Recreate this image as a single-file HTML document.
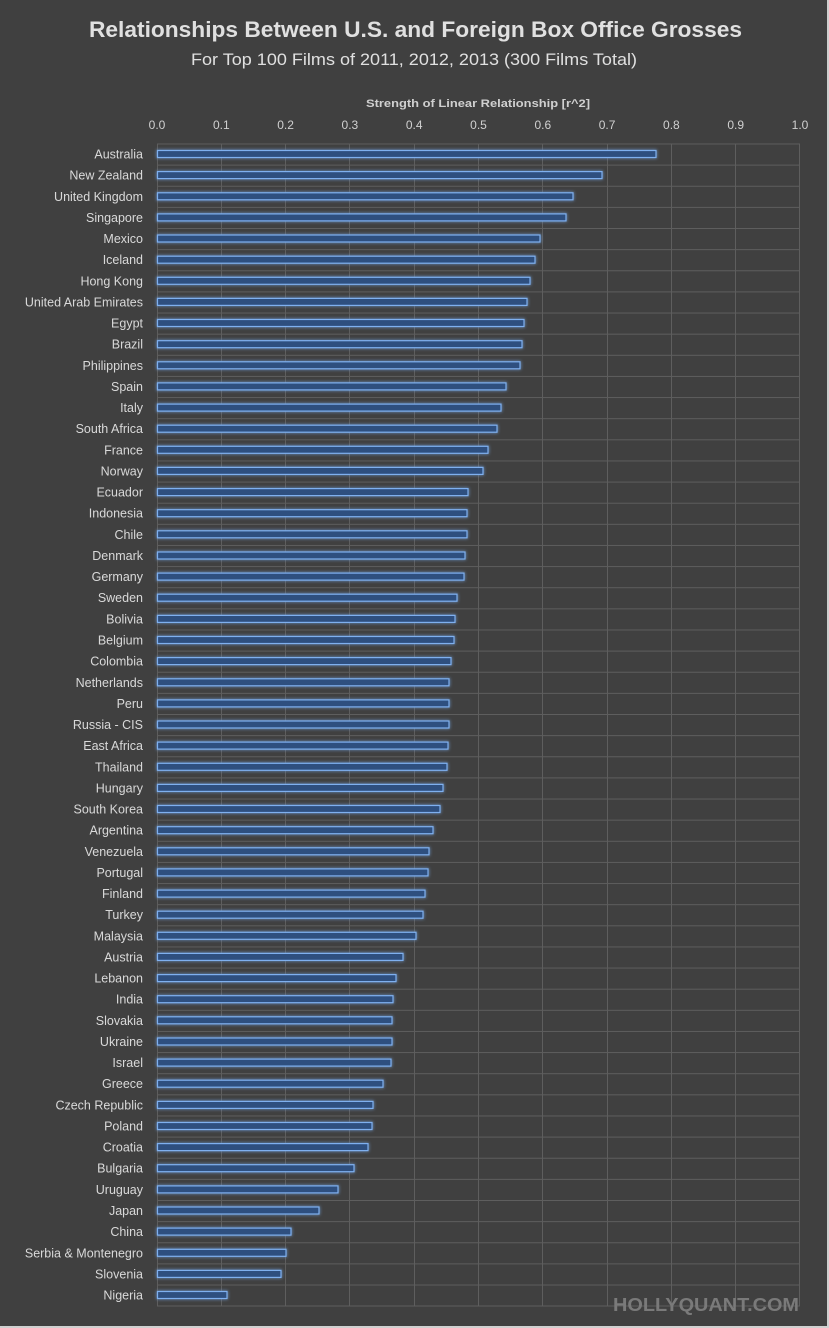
<!DOCTYPE html>
<html><head><meta charset="utf-8"><style>
html,body{margin:0;padding:0;background:#404040;}
svg{display:block;}
text{font-family:"Liberation Sans",sans-serif;}
</style></head><body>
<svg width="829" height="1328" viewBox="0 0 829 1328" xmlns="http://www.w3.org/2000/svg">
<defs>
<pattern id="hg" x="0" y="143.5" width="829" height="21.13" patternUnits="userSpaceOnUse">
<line x1="0" y1="0.5" x2="829" y2="0.5" stroke="#5e5e5e" stroke-width="1"/>
</pattern>
<filter id="glow" x="-5%" y="-150%" width="110%" height="400%">
<feGaussianBlur stdDeviation="1.6" result="b"/>
<feMerge><feMergeNode in="b"/><feMergeNode in="SourceGraphic"/></feMerge>
</filter>
</defs>
<rect x="0" y="0" width="829" height="1328" fill="#404040"/>
<rect x="827" y="0" width="2" height="1328" fill="#d0d0d0"/>
<rect x="0" y="1326" width="829" height="2" fill="#d0d0d0"/>
<text x="415.5" y="37" text-anchor="middle" font-size="22" font-weight="bold" fill="#e0e0e0" textLength="653" lengthAdjust="spacingAndGlyphs">Relationships Between U.S. and Foreign Box Office Grosses</text>
<text x="414" y="65" text-anchor="middle" font-size="17" fill="#e0e0e0" textLength="446" lengthAdjust="spacingAndGlyphs">For Top 100 Films of 2011, 2012, 2013 (300 Films Total)</text>
<text x="478" y="107" text-anchor="middle" font-size="11" font-weight="bold" fill="#d0d0d0" textLength="224" lengthAdjust="spacingAndGlyphs">Strength of Linear Relationship [r^2]</text>
<g font-size="12" fill="#d0d0d0" text-anchor="middle">
<text x="157" y="129">0.0</text><text x="221.3" y="129">0.1</text><text x="285.6" y="129">0.2</text><text x="349.9" y="129">0.3</text><text x="414.2" y="129">0.4</text><text x="478.5" y="129">0.5</text><text x="542.8" y="129">0.6</text><text x="607.1" y="129">0.7</text><text x="671.4" y="129">0.8</text><text x="735.7" y="129">0.9</text><text x="800" y="129">1.0</text>
</g>
<rect x="157" y="143.5" width="643" height="1163" fill="url(#hg)"/>
<g stroke="#5e5e5e" stroke-width="1">
<line x1="157.5" y1="143.5" x2="157.5" y2="1306"/><line x1="221.5" y1="143.5" x2="221.5" y2="1306"/><line x1="285.5" y1="143.5" x2="285.5" y2="1306"/><line x1="349.5" y1="143.5" x2="349.5" y2="1306"/><line x1="414.5" y1="143.5" x2="414.5" y2="1306"/><line x1="478.5" y1="143.5" x2="478.5" y2="1306"/><line x1="542.5" y1="143.5" x2="542.5" y2="1306"/><line x1="607.5" y1="143.5" x2="607.5" y2="1306"/><line x1="671.5" y1="143.5" x2="671.5" y2="1306"/><line x1="735.5" y1="143.5" x2="735.5" y2="1306"/><line x1="799.5" y1="143.5" x2="799.5" y2="1306"/>
<line x1="157" y1="1306" x2="800" y2="1306"/>
</g>
<g font-size="12.5" fill="#d9d9d9" text-anchor="end">
<text x="143" y="158.5">Australia</text>
<text x="143" y="179.6">New Zealand</text>
<text x="143" y="200.8">United Kingdom</text>
<text x="143" y="221.9">Singapore</text>
<text x="143" y="243">Mexico</text>
<text x="143" y="264.2">Iceland</text>
<text x="143" y="285.3">Hong Kong</text>
<text x="143" y="306.4">United Arab Emirates</text>
<text x="143" y="327.5">Egypt</text>
<text x="143" y="348.7">Brazil</text>
<text x="143" y="369.8">Philippines</text>
<text x="143" y="390.9">Spain</text>
<text x="143" y="412.1">Italy</text>
<text x="143" y="433.2">South Africa</text>
<text x="143" y="454.3">France</text>
<text x="143" y="475.4">Norway</text>
<text x="143" y="496.6">Ecuador</text>
<text x="143" y="517.7">Indonesia</text>
<text x="143" y="538.8">Chile</text>
<text x="143" y="560">Denmark</text>
<text x="143" y="581.1">Germany</text>
<text x="143" y="602.2">Sweden</text>
<text x="143" y="623.4">Bolivia</text>
<text x="143" y="644.5">Belgium</text>
<text x="143" y="665.6">Colombia</text>
<text x="143" y="686.8">Netherlands</text>
<text x="143" y="707.9">Peru</text>
<text x="143" y="729">Russia - CIS</text>
<text x="143" y="750.1">East Africa</text>
<text x="143" y="771.3">Thailand</text>
<text x="143" y="792.4">Hungary</text>
<text x="143" y="813.5">South Korea</text>
<text x="143" y="834.7">Argentina</text>
<text x="143" y="855.8">Venezuela</text>
<text x="143" y="876.9">Portugal</text>
<text x="143" y="898.1">Finland</text>
<text x="143" y="919.2">Turkey</text>
<text x="143" y="940.3">Malaysia</text>
<text x="143" y="961.4">Austria</text>
<text x="143" y="982.6">Lebanon</text>
<text x="143" y="1003.7">India</text>
<text x="143" y="1024.8">Slovakia</text>
<text x="143" y="1046">Ukraine</text>
<text x="143" y="1067.1">Israel</text>
<text x="143" y="1088.2">Greece</text>
<text x="143" y="1109.4">Czech Republic</text>
<text x="143" y="1130.5">Poland</text>
<text x="143" y="1151.6">Croatia</text>
<text x="143" y="1172.7">Bulgaria</text>
<text x="143" y="1193.9">Uruguay</text>
<text x="143" y="1215">Japan</text>
<text x="143" y="1236.1">China</text>
<text x="143" y="1257.3">Serbia &amp; Montenegro</text>
<text x="143" y="1278.4">Slovenia</text>
<text x="143" y="1299.5">Nigeria</text>
</g>
<g fill="#2f4f7f" stroke="#7fb0ef" stroke-width="1.2" filter="url(#glow)">
<rect x="157.5" y="150.5" width="498.5" height="7"/>
<rect x="157.5" y="171.6" width="444.5" height="7"/>
<rect x="157.5" y="192.8" width="415.5" height="7"/>
<rect x="157.5" y="213.9" width="408.5" height="7"/>
<rect x="157.5" y="235" width="382.5" height="7"/>
<rect x="157.5" y="256.2" width="377.5" height="7"/>
<rect x="157.5" y="277.3" width="372.5" height="7"/>
<rect x="157.5" y="298.4" width="369.5" height="7"/>
<rect x="157.5" y="319.5" width="366.5" height="7"/>
<rect x="157.5" y="340.7" width="364.5" height="7"/>
<rect x="157.5" y="361.8" width="362.5" height="7"/>
<rect x="157.5" y="382.9" width="348.5" height="7"/>
<rect x="157.5" y="404.1" width="343.5" height="7"/>
<rect x="157.5" y="425.2" width="339.5" height="7"/>
<rect x="157.5" y="446.3" width="330.5" height="7"/>
<rect x="157.5" y="467.4" width="325.5" height="7"/>
<rect x="157.5" y="488.6" width="310.5" height="7"/>
<rect x="157.5" y="509.7" width="309.5" height="7"/>
<rect x="157.5" y="530.8" width="309.5" height="7"/>
<rect x="157.5" y="552" width="307.5" height="7"/>
<rect x="157.5" y="573.1" width="306.5" height="7"/>
<rect x="157.5" y="594.2" width="299.5" height="7"/>
<rect x="157.5" y="615.4" width="297.5" height="7"/>
<rect x="157.5" y="636.5" width="296.5" height="7"/>
<rect x="157.5" y="657.6" width="293.5" height="7"/>
<rect x="157.5" y="678.8" width="291.5" height="7"/>
<rect x="157.5" y="699.9" width="291.5" height="7"/>
<rect x="157.5" y="721" width="291.5" height="7"/>
<rect x="157.5" y="742.1" width="290.5" height="7"/>
<rect x="157.5" y="763.3" width="289.5" height="7"/>
<rect x="157.5" y="784.4" width="285.5" height="7"/>
<rect x="157.5" y="805.5" width="282.5" height="7"/>
<rect x="157.5" y="826.7" width="275.5" height="7"/>
<rect x="157.5" y="847.8" width="271.5" height="7"/>
<rect x="157.5" y="868.9" width="270.5" height="7"/>
<rect x="157.5" y="890.1" width="267.5" height="7"/>
<rect x="157.5" y="911.2" width="265.5" height="7"/>
<rect x="157.5" y="932.3" width="258.5" height="7"/>
<rect x="157.5" y="953.4" width="245.5" height="7"/>
<rect x="157.5" y="974.6" width="238.5" height="7"/>
<rect x="157.5" y="995.7" width="235.5" height="7"/>
<rect x="157.5" y="1016.8" width="234.5" height="7"/>
<rect x="157.5" y="1038" width="234.5" height="7"/>
<rect x="157.5" y="1059.1" width="233.5" height="7"/>
<rect x="157.5" y="1080.2" width="225.5" height="7"/>
<rect x="157.5" y="1101.4" width="215.5" height="7"/>
<rect x="157.5" y="1122.5" width="214.5" height="7"/>
<rect x="157.5" y="1143.6" width="210.5" height="7"/>
<rect x="157.5" y="1164.7" width="196.5" height="7"/>
<rect x="157.5" y="1185.9" width="180.5" height="7"/>
<rect x="157.5" y="1207" width="161.5" height="7"/>
<rect x="157.5" y="1228.1" width="133.5" height="7"/>
<rect x="157.5" y="1249.3" width="128.5" height="7"/>
<rect x="157.5" y="1270.4" width="123.5" height="7"/>
<rect x="157.5" y="1291.5" width="69.5" height="7"/>
</g>
<text x="706" y="1311" text-anchor="middle" font-size="18" font-weight="bold" fill="#7a7a7a" textLength="186" lengthAdjust="spacingAndGlyphs">HOLLYQUANT.COM</text>
</svg>
</body></html>
